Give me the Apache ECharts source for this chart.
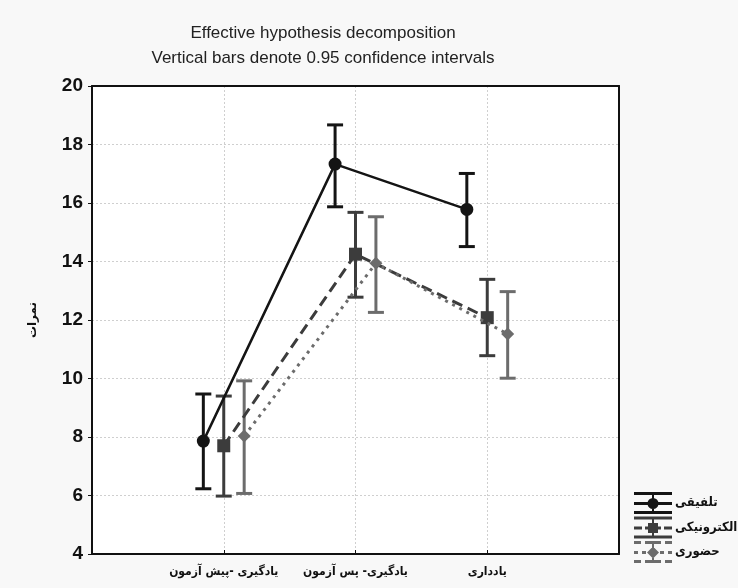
<!DOCTYPE html>
<html><head><meta charset="utf-8">
<script src="https://cdn.jsdelivr.net/npm/echarts@6/dist/echarts.min.js"></script>
<style>html,body{margin:0;padding:0;background:#f8f8f8}#c{width:738px;height:588px}</style>
</head><body><div id="c"></div>
<script>
var categories = ['یادگیری -پیش آزمون', 'یادگیری- پس آزمون', 'یادداری'];
var seriesNames = ['تلفیقی', 'الکترونیکی', 'حضوری'];
var meanTalfighi = [7.86, 17.33, 15.78];
var lowTalfighi = [6.23, 15.87, 14.51];
var highTalfighi = [9.47, 18.67, 17.01];
var meanElectronic = [7.70, 14.25, 12.08];
var lowElectronic = [5.98, 12.78, 10.78];
var highElectronic = [9.40, 15.68, 13.39];
var meanHozoori = [8.03, 13.94, 11.52];
var lowHozoori = [6.07, 12.26, 10.01];
var highHozoori = [9.92, 15.53, 12.97];
var yTicks = [4, 6, 8, 10, 12, 14, 16, 18, 20];
var titleLines = ['Effective hypothesis decomposition', 'Vertical bars denote 0.95 confidence intervals'];
var yAxisName = 'نمرات';

var means = [meanTalfighi, meanElectronic, meanHozoori];
var lows = [lowTalfighi, lowElectronic, lowHozoori];
var highs = [highTalfighi, highElectronic, highHozoori];
var offsets = [-0.155, 0, 0.155];
var colors = ['#141414', '#3c3c3c', '#6c6c6c'];
var lineTypes = ['solid', [11, 6], [3, 5]];
var symbols = ['circle', 'rect', 'diamond'];
var symbolSizes = [13, 13, 13];

var capsPath = 'M0 0H38V3H0Z M0 19H38V22H0Z M18 0H20V22H18Z ';
var icons = [
  'path://' + capsPath + 'M0 10H38V13H0Z M13.5 11.5A5.5 5.5 0 1 1 24.5 11.5A5.5 5.5 0 1 1 13.5 11.5Z',
  'path://' + capsPath + 'M0 10H8V13H0Z M11 10H27V13H11Z M30 10H38V13H30Z M14 6.5H24V16.5H14Z',
  'path://M0 0H7V3H0Z M11 0H27V3H11Z M31 0H38V3H31Z M0 19H7V22H0Z M11 19H27V22H11Z M31 19H38V22H31Z M18 0H20V22H18Z M0 10H4V13H0Z M8 10H12V13H8Z M26 10H30V13H26Z M34 10H38V13H34Z M19 5.5L25 11.5L19 17.5L13 11.5Z'
];

var series = [];
for (var s = 0; s < 3; s++) {
  (function (s) {
    var errData = [], lineData = [];
    for (var i = 0; i < categories.length; i++) {
      errData.push([i + 1 + offsets[s], lows[s][i], highs[s][i]]);
      lineData.push([i + 1 + offsets[s], means[s][i]]);
    }
    series.push({
      type: 'custom', name: seriesNames[s], z: 2, silent: true,
      encode: { x: 0, y: [1, 2] },
      data: errData,
      renderItem: function (params, api) {
        var x = api.value(0);
        var lo = api.coord([x, api.value(1)]);
        var hi = api.coord([x, api.value(2)]);
        var hw = 8;
        var st = { stroke: colors[s], lineWidth: 3, fill: null };
        return { type: 'group', children: [
          { type: 'line', shape: { x1: lo[0], y1: lo[1], x2: hi[0], y2: hi[1] }, style: st },
          { type: 'line', shape: { x1: lo[0] - hw, y1: lo[1], x2: lo[0] + hw, y2: lo[1] }, style: st },
          { type: 'line', shape: { x1: hi[0] - hw, y1: hi[1], x2: hi[0] + hw, y2: hi[1] }, style: st }
        ]};
      }
    });
    series.push({
      type: 'line', name: seriesNames[s], z: 3 + s,
      data: lineData,
      symbol: symbols[s], symbolSize: symbolSizes[s],
      itemStyle: { color: colors[s] },
      lineStyle: { color: colors[s], width: s === 0 ? 2.5 : 3, type: lineTypes[s] },
      animation: false
    });
  })(s);
}

var frameAxis = {
  axisLine: { show: true, onZero: false, lineStyle: { color: '#111', width: 2 } },
  axisTick: { show: false }, axisLabel: { show: false }, splitLine: { show: false }
};

var chart = echarts.init(document.getElementById('c'));
chart.setOption({
  backgroundColor: '#f8f8f8',
  animation: false,
  title: [
    { text: titleLines[0], left: 318, top: 20, textAlign: 'center',
      textStyle: { fontFamily: 'Liberation Sans', fontSize: 17, fontWeight: 'normal', color: '#222' } },
    { text: titleLines[1], left: 318, top: 45, textAlign: 'center',
      textStyle: { fontFamily: 'Liberation Sans', fontSize: 17, fontWeight: 'normal', color: '#222' } }
  ],
  grid: { left: 92, right: 119, top: 86, bottom: 34, show: true, backgroundColor: '#ffffff', borderWidth: 0 },
  legend: {
    orient: 'vertical', left: 634, top: 492, itemWidth: 38, itemHeight: 22, itemGap: 2.5, padding: 0,
    textStyle: { fontFamily: 'DejaVu Sans Condensed', fontWeight: 'bold', fontSize: 13, color: '#111', padding: [0, 0, 0, -2] },
    data: seriesNames.map(function (n, i) { return { name: n, icon: icons[i], itemStyle: { color: colors[i] } }; })
  },
  xAxis: [{
    type: 'value', min: 0, max: 4, interval: 1,
    axisLine: { show: true, onZero: false, lineStyle: { color: '#111', width: 2 } },
    axisTick: { show: true, inside: true, length: 4, lineStyle: { color: '#111' } },
    splitLine: { show: true, lineStyle: { color: '#cfcfcf', type: [2, 2], width: 1 } },
    axisLabel: {
      margin: 12, fontFamily: 'DejaVu Sans Condensed', fontWeight: 'bold', fontSize: 12, color: '#111',
      formatter: function (v) { return (v >= 1 && v <= categories.length) ? categories[v - 1] : ''; }
    }
  }, Object.assign({ type: 'value', min: 0, max: 4, position: 'top' }, frameAxis)],
  yAxis: [{
    type: 'value', min: yTicks[0], max: yTicks[yTicks.length - 1], interval: yTicks[1] - yTicks[0],
    name: yAxisName, nameLocation: 'middle', nameGap: 53, nameRotate: 90,
    nameTextStyle: { fontFamily: 'DejaVu Sans', fontWeight: 'bold', fontSize: 12, color: '#111' },
    axisLine: { show: true, onZero: false, lineStyle: { color: '#111', width: 2 } },
    axisTick: { show: true, length: 4, lineStyle: { color: '#111' } },
    splitLine: { show: true, lineStyle: { color: '#cfcfcf', type: [2, 2], width: 1 } },
    axisLabel: { margin: 9, fontFamily: 'Liberation Sans', fontWeight: 'bold', fontSize: 19, color: '#111' }
  }, Object.assign({ type: 'value', min: yTicks[0], max: yTicks[yTicks.length - 1], position: 'right' }, frameAxis)],
  series: series
});
</script>
</body></html>
